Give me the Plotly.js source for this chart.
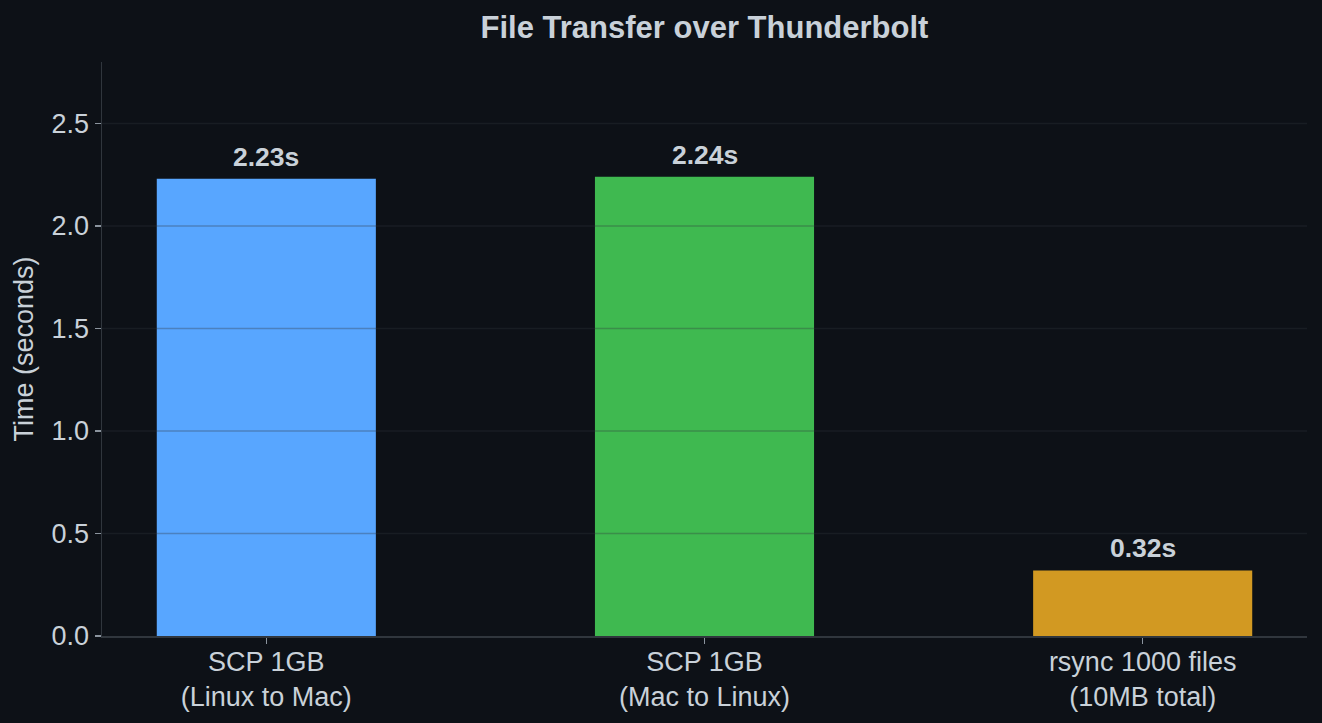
<!DOCTYPE html>
<html>
<head>
<meta charset="utf-8">
<script src="https://cdn.plot.ly/plotly-3.0.1.min.js"></script>
<style>
  html, body { margin: 0; padding: 0; background: #0d1117; }
  #chart { width: 1322px; height: 723px; }
</style>
</head>
<body>
<div id="chart"></div>
<script>
const categories = ["SCP 1GB<br>(Linux to Mac)", "SCP 1GB<br>(Mac to Linux)", "rsync 1000 files<br>(10MB total)"];
const times = [2.23, 2.24, 0.32];
const barColors = ["#58a6ff", "#3fb950", "#d29922"];
const yTickVals = [0, 0.5, 1.0, 1.5, 2.0, 2.5];
const yTickText = ["0.0", "0.5", "1.0", "1.5", "2.0", "2.5"];
const valueLabels = times.map(v => v.toFixed(2) + "s");

const FONT = "Liberation Sans, Arial, sans-serif";
const TEXT = "#c9d1d9";

const trace = {
  type: "bar",
  x: [0, 1, 2],
  y: times,
  width: 0.5,
  marker: { color: barColors, line: { width: 0 } },
  hoverinfo: "skip",
  showlegend: false
};

const gridShapes = yTickVals.filter(v => v > 0).map(v => ({
  type: "line", xref: "paper", yref: "y", x0: 0, x1: 1, y0: v, y1: v,
  layer: "above", line: { color: "rgba(48,54,61,0.33)", width: 1.6 }
}));

const labelAnnotations = times.map((v, i) => ({
  x: i, y: v, xref: "x", yref: "y", text: valueLabels[i], showarrow: false,
  yanchor: "bottom", yshift: 5,
  font: { family: FONT, size: 26.5, color: TEXT, weight: "bold" }
}));

const layout = {
  width: 1322, height: 723,
  paper_bgcolor: "#0d1117",
  plot_bgcolor: "#0d1117",
  margin: { l: 102, r: 15, t: 62, b: 87 },
  font: { family: FONT, color: TEXT, size: 27 },
  title: {
    text: "<b>File Transfer over Thunderbolt</b>",
    x: 0.5, xref: "paper", y: 1 - 27 / 723, yref: "container", yanchor: "middle",
    font: { family: FONT, size: 31, color: TEXT }
  },
  xaxis: {
    range: [-0.375, 2.375],
    tickmode: "array", tickvals: [0, 1, 2], ticktext: categories,
    showgrid: false, zeroline: false,
    showline: true, linecolor: "#30363d", linewidth: 1.5,
    ticks: "outside", ticklen: 6, tickwidth: 1.2, tickcolor: "#8b949e",
    ticklabelstandoff: -5,
    tickfont: { family: FONT, size: 27, color: TEXT },
    fixedrange: true
  },
  yaxis: {
    range: [0, 2.8],
    tickmode: "array", tickvals: yTickVals, ticktext: yTickText,
    showgrid: false, zeroline: false,
    showline: true, linecolor: "#30363d", linewidth: 1.5,
    ticks: "outside", ticklen: 6, tickwidth: 1.2, tickcolor: "#8b949e",
    tickfont: { family: FONT, size: 27, color: TEXT },
    title: { text: "Time (seconds)", font: { family: FONT, size: 27, color: TEXT }, standoff: 10 },
    fixedrange: true
  },
  shapes: gridShapes,
  annotations: labelAnnotations,
  bargap: 0.5
};

Plotly.newPlot("chart", [trace], layout, { displayModeBar: false, staticPlot: true });
</script>
</body>
</html>
